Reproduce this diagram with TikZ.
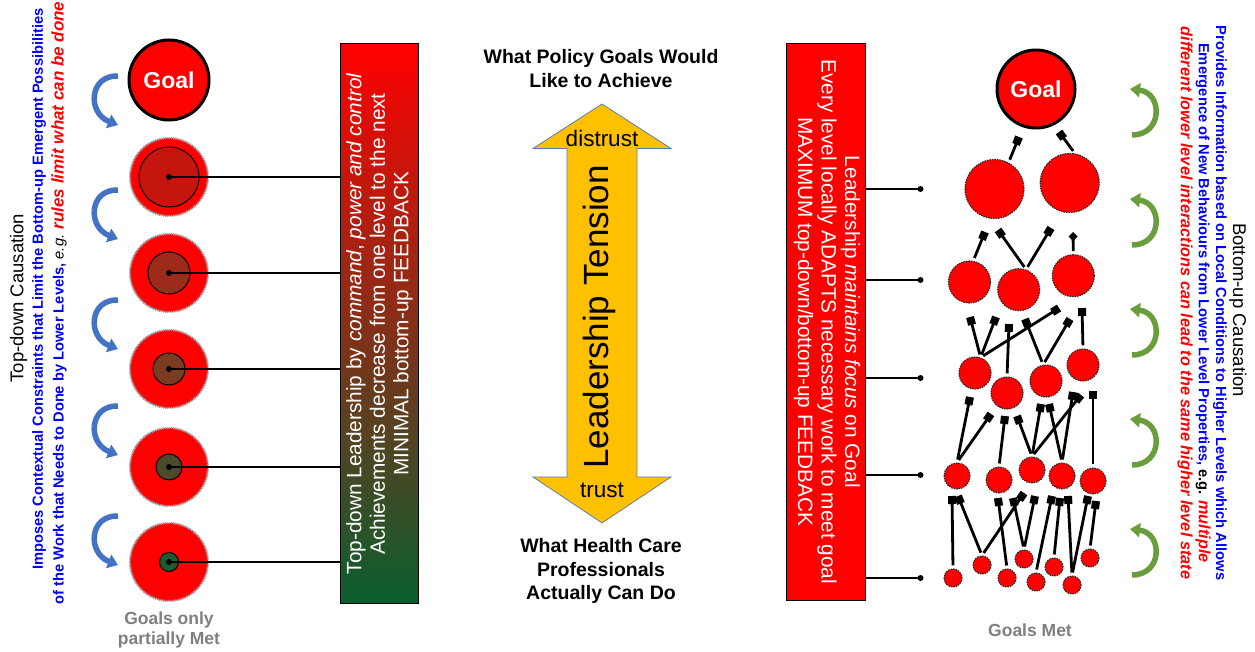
\documentclass[tikz,border=0pt]{standalone}
\usepackage{fontspec}
\setmainfont{Liberation Sans}
\usetikzlibrary{arrows.meta}
\definecolor{dkgreen}{HTML}{0B5F2F}
\definecolor{cA}{HTML}{C4160E}
\definecolor{cB}{HTML}{9E2A1A}
\definecolor{cC}{HTML}{7A3D22}
\definecolor{cD}{HTML}{4D4A2B}
\definecolor{cE}{HTML}{1D5C2E}
\definecolor{arrowyel}{HTML}{FFC000}
\definecolor{arrowedge}{HTML}{5B7DB1}
\definecolor{bluearr}{HTML}{4472C4}
\definecolor{greenarr}{HTML}{6A9E3C}
\definecolor{goalgray}{HTML}{7F7F7F}
\newcommand\myfs[2]{\fontsize{#1}{#2}\selectfont}
\begin{document}
\begin{tikzpicture}[x=1pt,y=-1pt,
  goalc/.style={circle,fill=red,draw=black,line width=3pt,inner sep=0,minimum size=#1,text=white,font=\myfs{23}{26}\bfseries},
  lvl/.style={circle,fill=red,draw=gray!75,line width=2pt,dash pattern=on 1.2pt off 0.8pt,inner sep=0,minimum size=78},
  innerc/.style={circle,draw=black,line width=1pt,inner sep=0,minimum size=#1},
  hline/.style={line width=1.3pt,black},
  dotc/.style={circle,fill=black,inner sep=0,minimum size=6},
  nd/.style={circle,fill=red,draw=black!85,line width=1.1pt,dash pattern=on 1.5pt off 1pt,inner sep=0,minimum size=#1},
  ncon/.style={line width=2.8pt,shorten <=3pt,-{Square[length=8pt,width=8pt]}},
  ncond/.style={line width=2.8pt,shorten <=3pt,-{Turned Square[length=9pt,width=9pt]}},
  boxtext/.style={text=white,font=\myfs{20.8}{23.6},align=center},
  sidetitle/.style={font=\myfs{18.5}{20}},
  sideline/.style={font=\myfs{14.7}{17}\bfseries,text=blue},
  midhead/.style={font=\myfs{19.5}{23.6}\bfseries,align=center},
  graylabel/.style={font=\myfs{17.5}{20}\bfseries,text=goalgray,align=center},
  barrow/.style={line width=5.5pt,bluearr,-{Triangle[width=14pt,length=10pt]}},
  garrow/.style={line width=5.5pt,greenarr,-{Triangle[width=14pt,length=10pt]}}
]
\fill[white] (0,0) rectangle (1255,652);
\useasboundingbox (0,0) rectangle (1255,652);

% ---------- left side text ----------
\node[sidetitle,rotate=90] (tdc) at (18.5,298) {Top-down Causation};
\node[sideline,rotate=90] (td1) at (39,289) {Imposes Contextual Constraints that Limit the Bottom-up Emergent Possibilities};
\node[sideline,rotate=90] (td2) at (59,303) {of the Work that Needs to Done by Lower Levels, \textcolor{black}{\mdseries\itshape e.g.} \textcolor{red}{\fontsize{17}{17}\selectfont\itshape rules limit what can be done}};

% ---------- left curved arrows ----------
\foreach \y in {73,187,297,403,513}{
  \draw[barrow] (118,\y+3) .. controls (89,\y+2) and (87,\y+40) .. (118,\y+52);
}

% ---------- left circles ----------
\node[goalc=80] (lg) at (169,80) {Goal};
\node[lvl] (l1) at (169,177) {};
\node[lvl] (l2) at (169,273) {};
\node[lvl] (l3) at (169,369) {};
\node[lvl] (l4) at (169,467) {};
\node[lvl] (l5) at (169,562) {};
\node[innerc=60,fill=cA] (i1) at (l1) {};
\node[innerc=42,fill=cB] (i2) at (l2) {};
\node[innerc=32,fill=cC] (i3) at (l3) {};
\node[innerc=26,fill=cD] (i4) at (l4) {};
\node[innerc=19,fill=cE] (i5) at (l5) {};
\node[graylabel] (gpm) at (169,630) {Goals only\\partially Met};

% ---------- left gradient box ----------
\node[draw=black,line width=1pt,minimum width=78,minimum height=560,top color=red,bottom color=dkgreen,inner sep=0] (lbox) at (379.5,323.8) {};
\node[boxtext,rotate=90] (lboxt) at (lbox.center) {Top-down Leadership by \textit{command}, \textit{power and control}\\Achievements decrease from one level to the next\\MINIMAL bottom-up FEEDBACK};
\foreach \i in {1,...,5}{
  \node[dotc] (ld\i) at (i\i) {};
  \draw[hline] (ld\i.center) -- (ld\i.center -| lbox.west);
}

% ---------- middle ----------
\node[midhead] (pg) at (601,68.3) {What Policy Goals Would\\Like to Achieve};
\node[midhead] (hc) at (601,571) {What Health Care\\Professionals\\Actually Can Do};
\draw[fill=arrowyel,draw=arrowedge,line width=0.8pt]
  (602,104) -- (671,148.5) -- (637,148.5) -- (637,477) -- (671,477) -- (602,523)
  -- (533,477) -- (567,477) -- (567,148.5) -- (533,148.5) -- cycle;
\node[font=\myfs{22.5}{26}] (dis) at (602,138) {distrust};
\node[font=\myfs{22.5}{26}] (tru) at (602,490) {trust};
\node[font=\myfs{35}{40},rotate=90] (lt) at (599,317) {Leadership Tension};

% ---------- right red box ----------
\node[draw=black,line width=1pt,fill=red,minimum width=79,minimum height=557,inner sep=0] (rbox) at (825.5,321.8) {};
\node[boxtext,rotate=-90] (rboxt) at (827,321.8) {Leadership \textit{maintains focus} on Goal\\Every level locally ADAPTS necessary work to meet goal\\MAXIMUM top-down/bottom-up FEEDBACK};
\foreach \i/\y in {1/189,2/280,3/378,4/475,5/578}{
  \node[dotc] (rd\i) at (920.5,\y) {};
  \draw[hline] (rd\i.center -| rbox.east) -- (rd\i.center);
}

% ---------- right network ----------
\node[goalc=78] (rg) at (1036,89) {Goal};
\node[nd=59] (A) at (994.5,189) {};
\node[nd=59] (B) at (1069.7,183) {};
\node[nd=42] (C) at (969.5,282) {};
\node[nd=42] (D) at (1018.7,289.7) {};
\node[nd=42] (E) at (1073.3,275.7) {};
\node[nd=32] (F) at (975,373) {};
\node[nd=32] (G) at (1007,393) {};
\node[nd=32] (H) at (1046,381) {};
\node[nd=32] (I) at (1083,365) {};
\node[nd=26] (J) at (957,476) {};
\node[nd=26] (K) at (999,480) {};
\node[nd=26] (L) at (1032,470) {};
\node[nd=26] (M) at (1062,476) {};
\node[nd=26] (N) at (1093,481) {};
\node[nd=18] (O) at (953,578) {};
\node[nd=18] (P) at (982,565) {};
\node[nd=18] (Q) at (1007,578) {};
\node[nd=18] (R) at (1024,559) {};
\node[nd=18] (S) at (1036,582) {};
\node[nd=18] (T) at (1054,567) {};
\node[nd=18] (U) at (1072,585) {};
\node[nd=18] (V) at (1090,558) {};
\node[graylabel] (gm) at (1030,630) {Goals Met};

\coordinate (t1) at (1019,137);
\coordinate (t2) at (1059,132);
\coordinate (t3) at (985,232);
\coordinate (t4) at (998,230);
\coordinate (t5) at (1051,228);
\coordinate (t6) at (1073,232);
\coordinate (t7) at (970,317);
\coordinate (t8) at (996,317);
\coordinate (t9) at (1059,308);
\coordinate (t10) at (1009,324);
\coordinate (t11) at (1025,319);
\coordinate (t12) at (1070,319);
\coordinate (t13) at (1082,308);
\coordinate (t14) at (970,397);
\coordinate (t15) at (991,414);
\coordinate (t16) at (1005,416);
\coordinate (t17) at (1017,416);
\coordinate (t18) at (1041,404);
\coordinate (t19) at (1049,404);
\coordinate (t20) at (1073,392);
\coordinate (t21) at (1081,395);
\coordinate (t22) at (1093,391);
\coordinate (t23) at (952,496);
\coordinate (t24) at (958,496);
\coordinate (t25) at (1024,493);
\coordinate (t26) at (998,498);
\coordinate (t27) at (1013,498);
\coordinate (t28) at (1035,496);
\coordinate (t29) at (1052,496);
\coordinate (t30) at (1060,498);
\coordinate (t31) at (1068,496);
\coordinate (t32) at (1088,496);
\coordinate (t33) at (1096,501);

\draw[ncon] (A.62) -- (t1);
\draw[ncon] (B.80) -- (t2);
\draw[ncon] (C.80) -- (t3);
\draw[ncon] (D.70) -- (t4);
\draw[ncon] (D.70) -- (t5);
\draw[ncond] (E.north) -- (t6);
\draw[ncon] (F.70) -- (t7);
\draw[ncon] (F.70) -- (t8);
\draw[ncon] (F.70) -- (t9);
\draw[ncon] (G.north) -- (t10);
\draw[ncon] (H.100) -- (t11);
\draw[ncon] (H.100) -- (t12);
\draw[ncon] (I.north) -- (t13);
\draw[ncon] (J.north) -- (t14);
\draw[ncon] (J.north) -- (t15);
\draw[ncon] (K.north) -- (t16);
\draw[ncon] (L.north) -- (t17);
\draw[ncon] (L.north) -- (t18);
\draw[ncon] (L.north) -- (t21);
\draw[ncon] (M.north) -- (t19);
\draw[ncon] (M.north) -- (t20);
\draw[ncon] (N.north) -- (t22);
\draw[ncon] (O.north) -- (t23);
\draw[ncon] (P.north) -- (t24);
\draw[ncon] (P.north) -- (t25);
\draw[ncon] (Q.north) -- (t26);
\draw[ncon] (R.north) -- (t27);
\draw[ncon] (R.north) -- (t28);
\draw[ncon] (S.north) -- (t29);
\draw[ncon] (T.north) -- (t30);
\draw[ncon] (U.north) -- (t31);
\draw[ncon] (U.north) -- (t32);
\draw[ncon] (V.north) -- (t33);

% ---------- right curved arrows ----------
\foreach \y in {85,195,305,415,525}{
  \draw[garrow] (1132,\y+50) .. controls (1163,\y+50) and (1163,\y+8) .. (1130,\y+4);
}

% ---------- right side text ----------
\node[sidetitle,rotate=-90] (buc) at (1238,310) {Bottom-up Causation};
\node[sideline,rotate=-90] (bu1) at (1220,303) {Provides Information based on Local Conditions to Higher Levels which Allows};
\node[sideline,rotate=-90] (bu2) at (1203,303) {Emergence of New Behaviours from Lower Level Properties, \textcolor{black}{e.g.} \textcolor{red}{\fontsize{16.3}{17}\selectfont\itshape multiple}};
\node[sideline,rotate=-90,text=red] (bu3) at (1185,303) {\fontsize{16.3}{17}\selectfont\itshape different lower level interactions can lead to the same higher level state};
\end{tikzpicture}
\end{document}
